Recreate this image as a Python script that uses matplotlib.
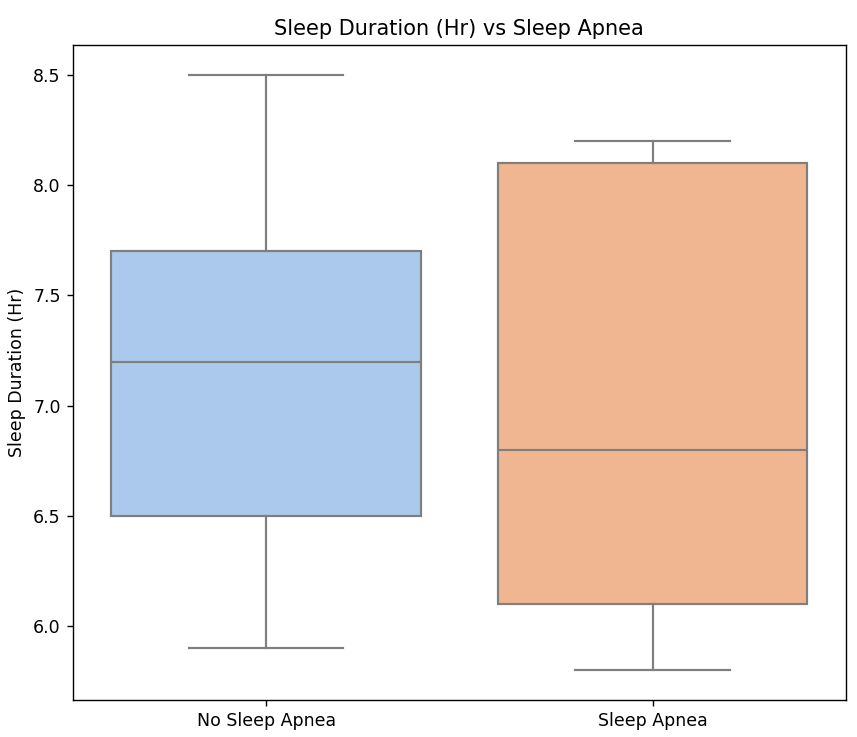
import matplotlib
matplotlib.use("Agg")
import matplotlib.pyplot as plt

groups = ["No Sleep Apnea", "Sleep Apnea"]
whis_lo = [5.9, 5.8]
q1 = [6.5, 6.1]
medians = [7.2, 6.8]
q3 = [7.7, 8.1]
whis_hi = [8.5, 8.2]
box_colors = ["#abc9ec", "#f0b692"]

stats = []
for i, g in enumerate(groups):
    stats.append(dict(label=g, whislo=whis_lo[i], q1=q1[i], med=medians[i],
                      q3=q3[i], whishi=whis_hi[i], fliers=[]))

fig, ax = plt.subplots(figsize=(857 / 125, 737 / 125), dpi=125)
grey = "#7f7f7f"
bp = ax.bxp(stats, positions=range(len(groups)), widths=0.8, patch_artist=True,
            showfliers=False,
            boxprops=dict(edgecolor=grey, linewidth=1.25),
            medianprops=dict(color=grey, linewidth=1.25),
            whiskerprops=dict(color=grey, linewidth=1.25),
            capprops=dict(color=grey, linewidth=1.25))
for patch, c in zip(bp["boxes"], box_colors):
    patch.set_facecolor(c)
for cap in bp["caps"]:
    x = cap.get_xdata()
    m = (x[0] + x[1]) / 2
    cap.set_xdata([m - 0.2, m + 0.2])

ax.set_xlim(-0.5, 1.5)
lo, hi = min(whis_lo), max(whis_hi)
pad = (hi - lo) * 0.05
ax.set_ylim(lo - pad, hi + pad)
ax.set_yticks([6.0, 6.5, 7.0, 7.5, 8.0, 8.5])
ax.set_ylabel("Sleep Duration (Hr)")
ax.set_title("Sleep Duration (Hr) vs Sleep Apnea")
plt.subplots_adjust(left=0.085, right=0.987, top=0.939, bottom=0.05)
plt.savefig("out.png")
